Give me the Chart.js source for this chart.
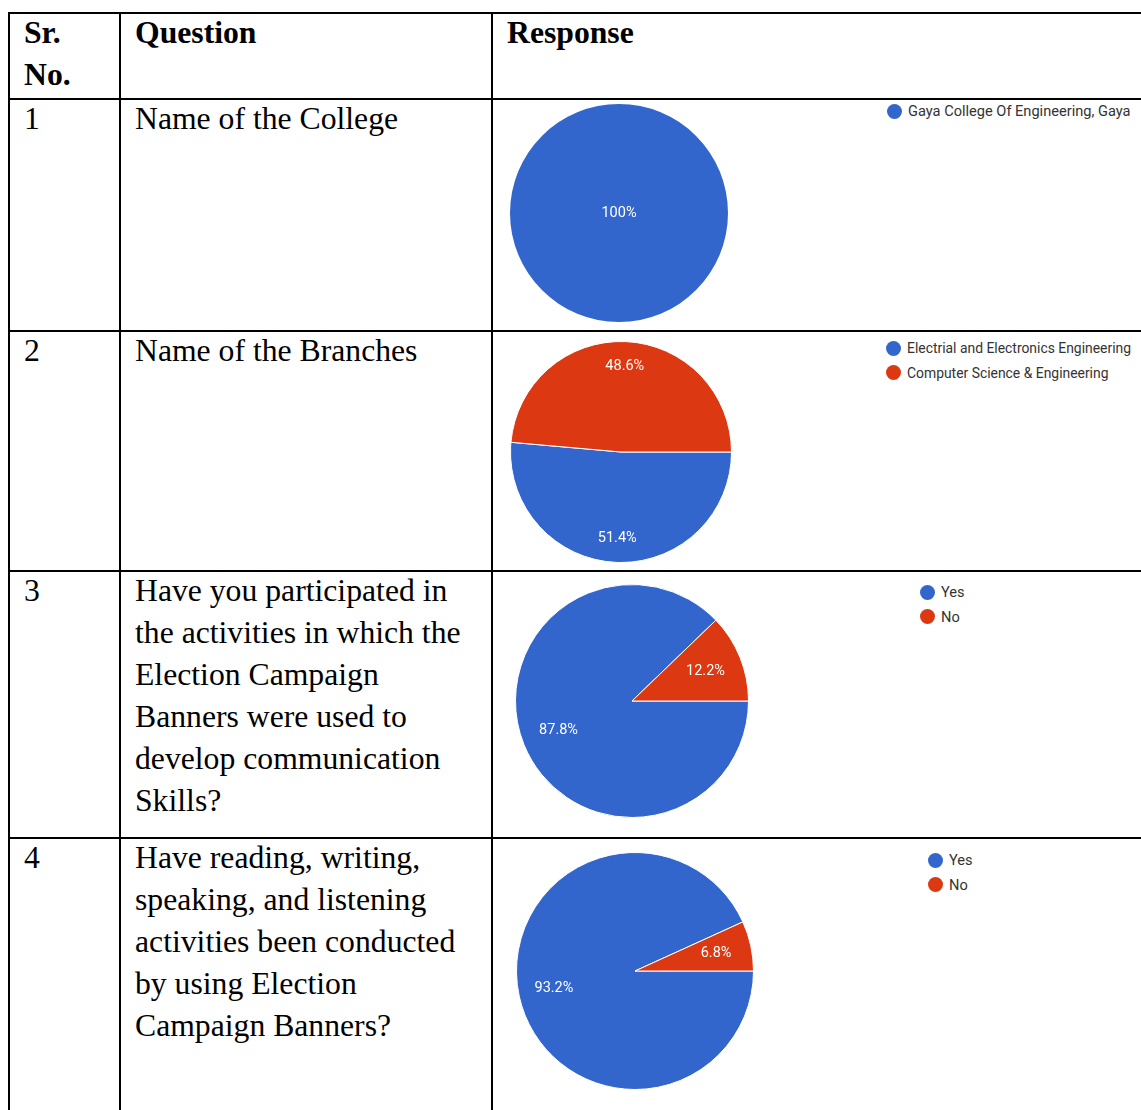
<!DOCTYPE html>
<html>
<head>
<meta charset="utf-8">
<script src="https://cdn.jsdelivr.net/npm/chart.js@4.4.1/dist/chart.umd.min.js"></script>
<style>
  html, body { margin: 0; padding: 0; background: #fff; overflow: hidden; }
  body { position: relative; width: 1141px; height: 1110px; }
  table {
    position: absolute; left: 8px; top: 12px;
    border-collapse: collapse; table-layout: fixed; width: 1200px;
    font-family: "Liberation Serif", "Times New Roman", serif;
    font-size: 31.7px; line-height: 42px; color: #000;
  }
  td, th { border: 2px solid #000; vertical-align: top; text-align: left; padding: 0 6px 0 14px; }
  th { font-weight: bold; }
  td div, th div { margin-top: -2px; }
  .pie { position: absolute; }
  .legend { position: absolute; font-family: Roboto, Arial, sans-serif; font-size: 14.6px; color: #333; }
  .legend div { display: flex; align-items: center; height: 24.5px; white-space: nowrap; }
  .legend span.dot { width: 15px; height: 15px; border-radius: 50%; margin-right: 6px; display: inline-block; }
</style>
</head>
<body>
<table>
  <colgroup><col style="width:111px"><col style="width:372px"><col></colgroup>
  <tr style="height:86px"><th><div>Sr.<br>No.</div></th><th><div>Question</div></th><th><div>Response</div></th></tr>
  <tr style="height:232px"><td><div>1</div></td><td><div>Name of the College</div></td><td></td></tr>
  <tr style="height:240px"><td><div>2</div></td><td><div>Name of the Branches</div></td><td></td></tr>
  <tr style="height:267px"><td><div>3</div></td><td><div>Have you participated in<br>the activities in which the<br>Election Campaign<br>Banners were used to<br>develop communication<br>Skills?</div></td><td></td></tr>
  <tr style="height:320px"><td><div>4</div></td><td><div>Have reading, writing,<br>speaking, and listening<br>activities been conducted<br>by using Election<br>Campaign Banners?</div></td><td></td></tr>
</table>

<div class="pie" style="left:510px;top:104px;width:218px;height:218px"><canvas id="pie1"></canvas></div>
<div class="pie" style="left:510px;top:341px;width:222px;height:222px"><canvas id="pie2"></canvas></div>
<div class="pie" style="left:515px;top:584px;width:234px;height:234px"><canvas id="pie3"></canvas></div>
<div class="pie" style="left:516px;top:852px;width:238px;height:238px"><canvas id="pie4"></canvas></div>

<div class="legend" id="legend1" style="left:887px;top:99px"></div>
<div class="legend" id="legend2" style="left:886px;top:336px;font-size:13.9px"></div>
<div class="legend" id="legend3" style="left:920px;top:580px"></div>
<div class="legend" id="legend4" style="left:928px;top:848px"></div>

<script>
var colors = ['#3366CC', '#DC3912'];

var collegeLabels = ['Gaya College Of Engineering, Gaya'];
var collegeValues = [100];

var branchLabels = ['Electrial and Electronics Engineering', 'Computer Science & Engineering'];
var branchValues = [51.4, 48.6];

var bannerLabels = ['Yes', 'No'];
var bannerValues = [87.8, 12.2];

var lsrwLabels = ['Yes', 'No'];
var lsrwValues = [93.2, 6.8];

// white percentage text inside the slices
var pctLabels = {
    id: 'pctLabels',
    afterDatasetsDraw(chart, args, opts) {
        let ctx = chart.ctx;
        let meta = chart.getDatasetMeta(0);
        let data = chart.data.datasets[0].data;
        let total = data.reduce((a, b) => a + b, 0);
        ctx.save();
        ctx.fillStyle = '#fff';
        ctx.font = '14.5px Roboto, Arial, sans-serif';
        ctx.textAlign = 'center';
        ctx.textBaseline = 'middle';
        meta.data.forEach((arc, i) => {
            let p = arc.getProps(['x', 'y', 'startAngle', 'endAngle', 'outerRadius'], true);
            let x = p.x, y = p.y;
            if (data[i] < total) {
                let mid = (p.startAngle + p.endAngle) / 2;
                let d = p.outerRadius * opts.dist;
                x += Math.cos(mid) * d;
                y += Math.sin(mid) * d;
            }
            let pct = (data[i] / total * 100).toFixed(1).replace('.0', '');
            ctx.fillText(pct + '%', x, y);
        });
        ctx.restore();
    }
};

function drawPie(ctx, legendId, labels, values, dist) {
    let chart = new Chart(document.getElementById(ctx), {
        type: 'pie',
        data: {
            labels: labels,
            datasets: [{
                data: values,
                backgroundColor: colors.slice(0, values.length),
                borderColor: '#fff',
                borderWidth: values.length > 1 ? 1 : 0
            }]
        },
        options: {
            responsive: true,
            maintainAspectRatio: false,
            animation: false,
            rotation: 90,
            layout: { padding: 0 },
            plugins: {
                legend: { display: false },
                tooltip: { enabled: false },
                pctLabels: { dist: dist }
            }
        },
        plugins: [pctLabels]
    });

    // legend built from the pie chart's own legend items
    let items = chart.options.plugins.legend.labels.generateLabels(chart);
    let box = document.getElementById(legendId);
    items.forEach(item => {
        let row = document.createElement('div');
        let dot = document.createElement('span');
        dot.className = 'dot';
        dot.style.background = item.fillStyle;
        row.appendChild(dot);
        row.appendChild(document.createTextNode(item.text));
        box.appendChild(row);
    });
    return chart;
}

drawPie('pie1', 'legend1', collegeLabels, collegeValues, 0);
drawPie('pie2', 'legend2', branchLabels, branchValues, 0.78);
drawPie('pie3', 'legend3', bannerLabels, bannerValues, 0.68);
drawPie('pie4', 'legend4', lsrwLabels, lsrwValues, 0.7);
</script>
</body>
</html>
